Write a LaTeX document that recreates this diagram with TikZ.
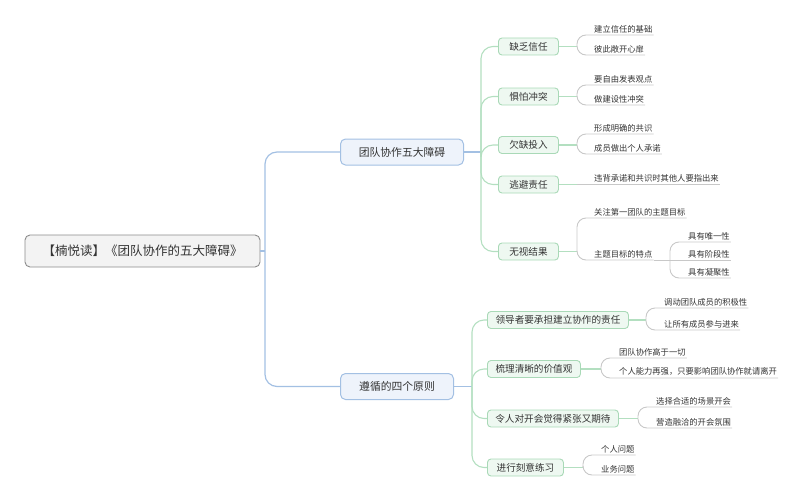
\documentclass[tikz,border=0pt]{standalone}
\usepackage{fontspec}
\setmainfont{Noto Sans CJK SC}
\usetikzlibrary{calc}
\definecolor{txt}{HTML}{333333}
\definecolor{bline}{HTML}{A3C0E3}
\definecolor{bfill}{HTML}{EEF3FB}
\definecolor{rfill}{HTML}{F3F3F3}
\definecolor{rborder}{HTML}{8C8C8C}
\definecolor{gline}{HTML}{B3DFC0}
\definecolor{gfill}{HTML}{EEF8F1}
\definecolor{gborder}{HTML}{A9D9B7}
\definecolor{lline}{HTML}{C8C8C8}
\begin{document}
\begin{tikzpicture}[x=1pt,y=-1pt,
  rootbox/.style={draw=rborder, fill=rfill, rounded corners=5pt, line width=0.9pt, inner sep=0pt,
    minimum width=235pt, minimum height=32pt, text=txt, font=\fontsize{12.5}{14}\selectfont},
  mainbox/.style={draw=bline, fill=bfill, rounded corners=5pt, line width=1pt, inner sep=0pt,
    minimum height=26pt, text=txt, font=\fontsize{10.8}{13}\selectfont, anchor=west},
  subbox/.style={draw=gborder, fill=gfill, rounded corners=3.5pt, line width=0.9pt, inner sep=0pt,
    minimum height=17pt, text=txt, font=\fontsize{9.6}{11}\selectfont, anchor=west},
  leaf/.style={anchor=south west, inner xsep=1pt, inner ysep=2pt, text=txt,
    font=\fontsize{8.3}{10}\selectfont},
  bl/.style={draw=bline, line width=1.2pt, rounded corners=12pt},
  gl/.style={draw=gline, line width=1.1pt, rounded corners=12pt},
  ll/.style={draw=lline, line width=0.9pt, rounded corners=9pt}
]
\useasboundingbox (0,0) rectangle (800,503);

% root and main nodes
\node[rootbox] (root) at (142.5,251) {【楠悦读】《团队协作的五大障碍》};
\node[mainbox, minimum width=123pt] (m1) at (340,152) {团队协作五大障碍};
\node[mainbox, minimum width=113pt] (m2) at (340,386.5) {遵循的四个原则};

\coordinate (j0) at (265,251);
\draw[bl] (root.east) -- (j0);
\draw[bl] (j0) |- (m1.west);
\draw[bl] (j0) |- (m2.west);

% level 2, group 1
\node[subbox, minimum width=60pt] (a1) at (498,46.5) {缺乏信任};
\node[subbox, minimum width=60pt] (a2) at (498,96.5) {惧怕冲突};
\node[subbox, minimum width=60pt] (a3) at (498,145) {欠缺投入};
\node[subbox, minimum width=60pt] (a4) at (498,184.5) {逃避责任};
\node[subbox, minimum width=60pt] (a5) at (498,251.5) {无视结果};

\coordinate (j1) at (481,152);
\draw[bl, rounded corners=0pt] (m1.east) -- (j1);
\foreach \n in {a1,a2,a3,a4,a5} \draw[gl] (j1) |- (\n.west);

% level 2, group 2
\node[subbox, minimum width=141pt] (b1) at (487,320) {领导者要承担建立协作的责任};
\node[subbox, minimum width=93pt] (b2) at (487,369) {梳理清晰的价值观};
\node[subbox, minimum width=131pt] (b3) at (487,418.5) {令人对开会觉得紧张又期待};
\node[subbox, minimum width=76pt] (b4) at (487,467.5) {进行刻意练习};

\coordinate (j2) at (472,386.5);
\draw[bl, rounded corners=0pt] (m2.east) -- (j2);
\foreach \n in {b1,b2,b3,b4} \draw[gl] (j2) |- (\n.west);

% leaves group 1
\node[leaf] (a1x) at (593,35) {建立信任的基础};
\node[leaf] (a1y) at (593,55) {彼此敞开心扉};
\node[leaf] (a2x) at (593,85) {要自由发表观点};
\node[leaf] (a2y) at (593,105) {做建设性冲突};
\node[leaf] (a3x) at (593,134) {形成明确的共识};
\node[leaf] (a3y) at (593,154) {成员做出个人承诺};
\node[leaf] (a4x) at (593,184.5) {违背承诺和共识时其他人要指出来};
\node[leaf] (a5x) at (593,218) {关注第一团队的主题目标};
\node[leaf] (a5y) at (593,260) {主题目标的特点};
\node[leaf] (c1) at (687,242) {具有唯一性};
\node[leaf] (c2) at (687,260) {具有阶段性};
\node[leaf] (c3) at (687,278) {具有凝聚性};

\coordinate (fa1) at (577,46.5);
\coordinate (fa2) at (577,96.5);
\coordinate (fa3) at (577,145);
\coordinate (fa4) at (577,184.5);
\coordinate (fa5) at (577,251.5);
\coordinate (fc) at (670,260);

\draw[gl, rounded corners=0pt] (a1.east) -- (fa1);
\draw[gl, rounded corners=0pt] (a2.east) -- (fa2);
\draw[gl, rounded corners=0pt] (a3.east) -- (fa3);
\draw[gl, rounded corners=0pt] (a4.east) -- (fa4);
\draw[gl, rounded corners=0pt] (a5.east) -- (fa5);

\draw[ll] (fa1) |- (a1x.south east);
\draw[ll] (fa1) |- (a1y.south east);
\draw[ll] (fa2) |- (a2x.south east);
\draw[ll] (fa2) |- (a2y.south east);
\draw[ll] (fa3) |- (a3x.south east);
\draw[ll] (fa3) |- (a3y.south east);
\draw[ll] (fa4) -- (a4x.south east);
\draw[ll] (fa5) |- (a5x.south east);
\draw[ll] (fa5) |- (a5y.south east);
\draw[ll] (a5y.south east) -- (fc);
\draw[ll] (fc) |- (c1.south east);
\draw[ll] (fc) -- (c2.south east);
\draw[ll] (fc) |- (c3.south east);

% leaves group 2
\node[leaf] (b1x) at (663,308) {调动团队成员的积极性};
\node[leaf] (b1y) at (663,330) {让所有成员参与进来};
\node[leaf] (b2x) at (618,358) {团队协作高于一切};
\node[leaf] (b2y) at (618,378) {个人能力再强，只要影响团队协作就请离开};
\node[leaf] (b3x) at (655,407) {选择合适的场景开会};
\node[leaf] (b3y) at (655,428) {营造融洽的开会氛围};
\node[leaf] (b4x) at (600,455) {个人问题};
\node[leaf] (b4y) at (600,475) {业务问题};

\coordinate (fb1) at (646,320);
\coordinate (fb2) at (601,369);
\coordinate (fb3) at (638,418.5);
\coordinate (fb4) at (583,467.5);

\draw[gl, rounded corners=0pt] (b1.east) -- (fb1);
\draw[gl, rounded corners=0pt] (b2.east) -- (fb2);
\draw[gl, rounded corners=0pt] (b3.east) -- (fb3);
\draw[gl, rounded corners=0pt] (b4.east) -- (fb4);

\draw[ll] (fb1) |- (b1x.south east);
\draw[ll] (fb1) |- (b1y.south east);
\draw[ll] (fb2) |- (b2x.south east);
\draw[ll] (fb2) |- (b2y.south east);
\draw[ll] (fb3) |- (b3x.south east);
\draw[ll] (fb3) |- (b3y.south east);
\draw[ll] (fb4) |- (b4x.south east);
\draw[ll] (fb4) |- (b4y.south east);
\end{tikzpicture}
\end{document}
